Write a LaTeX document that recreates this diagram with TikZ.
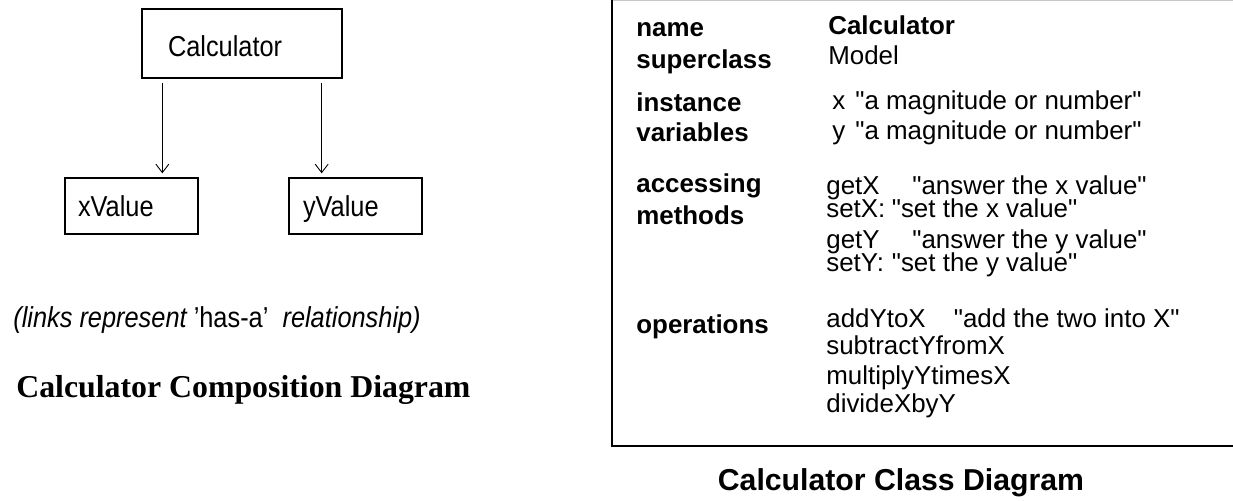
\documentclass[tikz,border=0pt]{standalone}
\usepackage{fontspec}
\newfontfamily\cardfont{Liberation Sans}
\newfontfamily\narrowfont[FakeStretch=0.88]{Liberation Sans}
\newfontfamily\titlefont{Liberation Serif}
\usetikzlibrary{arrows.meta}

\tikzset{
    box/.style={draw, line width=0.75pt, rectangle, inner ysep=0pt, align=left,
        text height=0.44cm, text depth=0pt,
        font=\narrowfont\fontsize{16.4}{19}\selectfont},
    hasa/.style={-{Straight Barb[length=0.17cm,width=0.26cm]}, line width=0.5pt,
        shorten <=0.08cm, shorten >=0.08cm},
    lbl/.style={anchor=base west, inner sep=0pt, font=\cardfont\fontsize{14.74}{17}\selectfont\bfseries},
    val/.style={anchor=base west, inner sep=0pt, font=\cardfont\fontsize{14.74}{17}\selectfont},
}

\begin{document}
\begin{tikzpicture}
        \useasboundingbox (0,0) rectangle (24.66,10.02);

        \node[box, minimum width=4cm, minimum height=1.38cm, inner xsep=0.52cm, text width=2.96cm,
            text height=0.54cm] (calc) at (4.84,9.15) {Calculator};
        \node[box, minimum width=2.66cm, minimum height=1.12cm, inner xsep=0.26cm, text width=2.14cm]
            (xval) at (2.63,5.90) {xValue};
        \node[box, minimum width=2.66cm, minimum height=1.12cm, inner xsep=0.28cm, text width=2.10cm]
            (yval) at (7.11,5.90) {yValue};

        \coordinate (xtop) at ([xshift=0.42cm]calc.south west);
        \coordinate (ytop) at ([xshift=-0.42cm]calc.south east);
        \draw[hasa] (xtop) -- (xtop |- xval.north);
        \draw[hasa] (ytop) -- (ytop |- yval.north);

        \node[anchor=base west, inner sep=0pt, font=\narrowfont\fontsize{16.4}{19}\selectfont]
            (note) at (0.26,3.46) {\itshape (links represent \upshape’has-a’\itshape\ \ relationship)};
        \node[anchor=base west, inner sep=0pt, font=\titlefont\bfseries\fontsize{18.1}{21}\selectfont]
            (comptitle) at (0.32,2.06) {Calculator Composition Diagram};

        % class card
        \coordinate (TL) at (12.24,10.02);
        \coordinate (BL) at (12.24,1.10);
        \coordinate (BR) at (24.66,1.10);
        \draw[gray!45, line width=0.6pt] (TL) -- (24.66,10.02);
        \draw[line width=0.75pt] (TL) -- (BL) -- (BR);

        \node[lbl] (lname) at (12.72,9.29) {name};
        \node[lbl] (lsuper) at (12.72,8.64) {superclass};
        \node[lbl] (linst) at (12.72,7.79) {instance};
        \node[lbl] (lvars) at (12.72,7.18) {variables};
        \node[lbl] (lacc) at (12.72,6.17) {accessing};
        \node[lbl] (lmeth) at (12.72,5.52) {methods};
        \node[lbl] (lops) at (12.72,3.34) {operations};

        \node[lbl] (vname) at (16.56,9.32) {Calculator};
        \node[val] (vsuper) at (16.56,8.72) {Model};
        \node[val] (vx) at (16.64,7.82) {\makebox[0.46cm][l]{x}"a magnitude or number"};
        \node[val] (vy) at (16.64,7.22) {\makebox[0.46cm][l]{y}"a magnitude or number"};
        \node[val] (vgetx) at (16.52,6.12) {\makebox[1.72cm][l]{getX}"answer the x value"};
        \node[val] (vsetx) at (16.52,5.66) {\makebox[1.31cm][l]{setX:}"set the x value"};
        \node[val] (vgety) at (16.52,5.04) {\makebox[1.72cm][l]{getY}"answer the y value"};
        \node[val] (vsety) at (16.52,4.58) {\makebox[1.31cm][l]{setY:}"set the y value"};
        \node[val] (vadd) at (16.52,3.46) {\makebox[2.55cm][l]{addYtoX}"add the two into X"};
        \node[val] (vsub) at (16.52,2.92) {subtractYfromX};
        \node[val] (vmul) at (16.52,2.32) {multiplyYtimesX};
        \node[val] (vdiv) at (16.52,1.76) {divideXbyY};

        \node[anchor=base, inner sep=0pt, font=\cardfont\bfseries\fontsize{17.2}{21}\selectfont]
            (classtitle) at (18.02,0.22) {Calculator Class Diagram};
    \end{tikzpicture}
\end{document}
